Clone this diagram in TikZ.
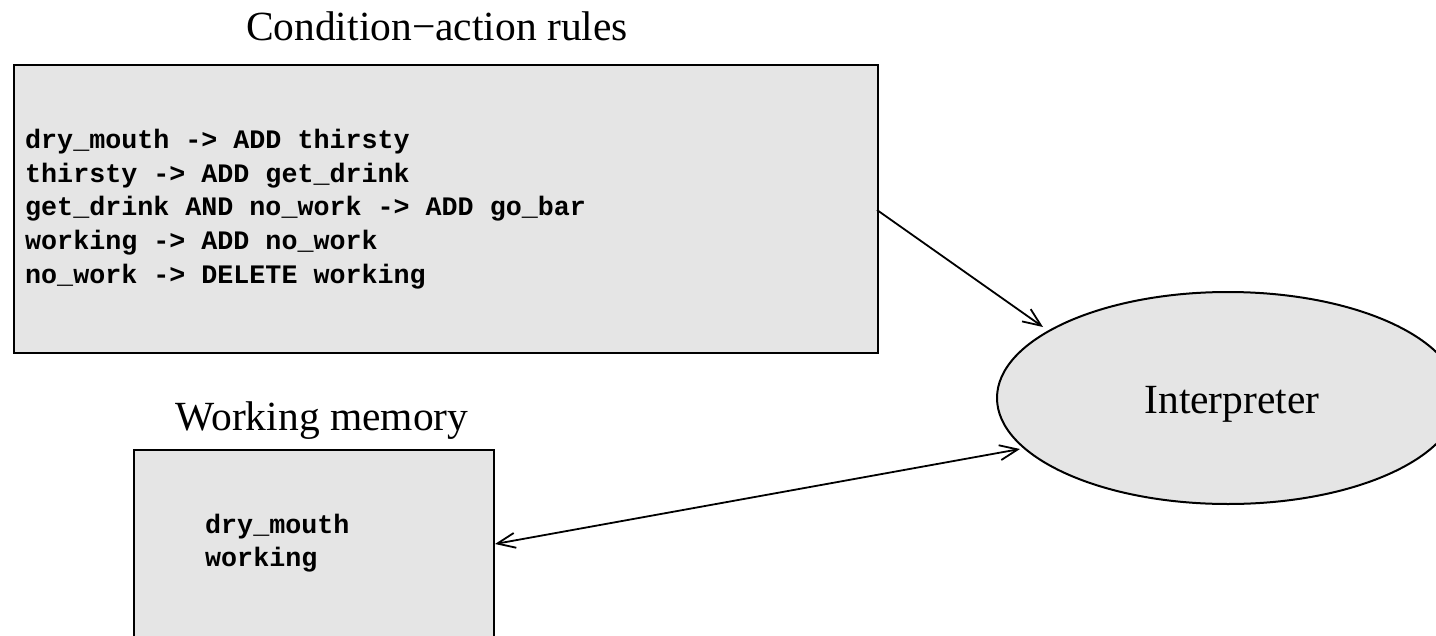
\documentclass[tikz,border=0pt]{standalone}
\usepackage{fontspec}
\setmainfont{Liberation Serif}
\setmonofont{Liberation Mono}
\usetikzlibrary{arrows.meta,shapes.geometric}
\definecolor{boxgray}{gray}{0.898}
\begin{document}
\begin{tikzpicture}[x=1pt,y=-1pt,
  box/.style={draw, line width=2pt, fill=boxgray, rectangle, anchor=north west, inner sep=0pt},
  code/.style={font=\fontsize{26.7}{34}\selectfont\ttfamily\bfseries, anchor=base west, inner sep=0pt},
  title/.style={font=\fontsize{41.5}{48}\selectfont, anchor=base, inner sep=0pt},
  arr/.style={line width=1.8pt, -{Straight Barb[length=18pt,width=15pt,line width=1.8pt]}},
  darr/.style={line width=1.8pt, {Straight Barb[length=18pt,width=15pt,line width=1.8pt]}-{Straight Barb[length=18pt,width=15pt,line width=1.8pt]}},
  ]
\useasboundingbox (0,0) rectangle (1436,635);
% titles
\node[title] (t1) at (437,40) {Condition−action rules};
\node[title] (t2) at (322,430) {Working memory};
% rules box
\node[box, minimum width=864pt, minimum height=288pt] (rules) at (13,64) {};
\node[code] (r1) at (25,148) {dry\_mouth -> ADD thirsty};
\node[code] (r2) at (25,182) {thirsty -> ADD get\_drink};
\node[code] (r3) at (25,215) {get\_drink AND no\_work -> ADD go\_bar};
\node[code] (r4) at (25,249) {working -> ADD no\_work};
\node[code] (r5) at (25,283) {no\_work -> DELETE working};
% working memory box
\node[box, minimum width=360pt, minimum height=220pt] (wm) at (133,449) {};
\node[code] (w1) at (205,533) {dry\_mouth};
\node[code] (w2) at (205,566) {working};
% interpreter
\node[draw, line width=2pt, fill=boxgray, ellipse, minimum width=462pt, minimum height=212pt, inner sep=0pt] (interp) at (1228,398) {};
\node[title] (itext) at (1232,413) {Interpreter};
% connectors
\coordinate (a1s) at (877,210);
\coordinate (a1e) at (1043,327);
\coordinate (a2s) at (495,544);
\coordinate (a2e) at (1020,449);
\draw[arr] (a1s) -- (a1e);
\draw[darr] (a2s) -- (a2e);
\end{tikzpicture}
\end{document}
